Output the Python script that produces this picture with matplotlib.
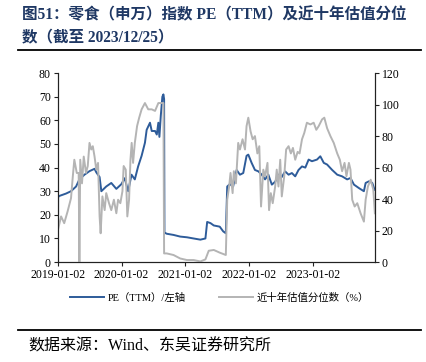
import pandas as pd
import matplotlib
matplotlib.use('Agg')
import matplotlib.pyplot as plt
from matplotlib.lines import Line2D

plt.rcParams['font.family'] = ['Liberation Serif', 'Noto Sans CJK SC']
plt.rcParams['axes.unicode_minus'] = False

# PE(TTM), left axis
pe_dates = ['2019-01-02', '2019-01-03', '2019-01-10', '2019-02-17', '2019-03-18', '2019-04-16',
            '2019-05-05', '2019-06-03', '2019-07-02', '2019-07-31', '2019-08-10', '2019-08-29',
            '2019-09-08', '2019-10-06', '2019-11-04', '2019-12-03', '2020-01-01', '2020-01-20',
            '2020-02-09', '2020-02-28', '2020-03-18', '2020-04-06', '2020-04-26', '2020-05-15',
            '2020-05-25', '2020-06-13', '2020-06-23', '2020-07-12', '2020-07-22', '2020-07-31',
            '2020-08-06', '2020-08-14', '2020-08-23', '2020-08-29', '2020-09-02', '2020-09-04',
            '2020-09-17', '2020-10-26', '2020-12-03', '2021-01-11', '2021-02-18', '2021-03-29',
            '2021-04-27', '2021-05-07', '2021-05-26', '2021-06-14', '2021-07-18', '2021-08-07',
            '2021-08-22', '2021-08-30', '2021-09-14', '2021-10-03', '2021-10-23', '2021-11-11',
            '2021-11-30', '2021-12-19', '2021-12-29', '2022-01-17', '2022-02-05', '2022-02-25',
            '2022-03-16', '2022-04-04', '2022-04-23', '2022-05-13', '2022-06-01', '2022-06-20',
            '2022-07-09', '2022-07-28', '2022-08-17', '2022-09-05', '2022-09-24', '2022-10-13',
            '2022-11-02', '2022-11-21', '2022-12-10', '2022-12-29', '2023-01-27', '2023-02-15',
            '2023-03-07', '2023-03-26', '2023-04-24', '2023-05-23', '2023-06-20', '2023-07-19',
            '2023-08-07', '2023-08-27', '2023-09-25', '2023-10-23', '2023-11-02', '2023-11-21',
            '2023-12-10', '2023-12-20', '2023-12-25']
pe_values = [0, 27.5, 28, 29, 30, 32,
             35, 37, 38.5, 39.5, 38, 36,
             30, 32, 33.5, 31, 33, 35.5,
             30, 37, 35, 40.5, 45, 50.5,
             56, 59, 55.5, 55.5, 54, 59,
             53, 62, 70, 71, 69, 12.5,
             12, 11.5, 10.8, 10.5, 10, 9.5,
             10, 17, 16.5, 15.5, 15, 13,
             12.2, 32, 33, 32, 39, 37,
             37.7, 45, 45.5, 42, 39, 38.4,
             37, 35, 37, 32.8, 34, 37,
             36, 38.4, 37, 37.7, 36.3, 39,
             40.5, 40, 43.4, 42.7, 43.4, 44.8,
             42, 41.3, 39, 37, 36.3, 35,
             35.6, 32.8, 31.3, 30, 33.5, 34.2,
             33.5, 31.3, 30.6]

# ten-year valuation percentile (%), right axis
pct_dates = ['2019-01-02', '2019-01-20', '2019-02-07', '2019-02-26', '2019-03-18', '2019-03-28',
             '2019-04-06', '2019-04-20', '2019-05-01', '2019-05-05', '2019-05-10', '2019-05-20',
             '2019-05-30', '2019-06-12', '2019-06-22', '2019-07-02', '2019-07-12', '2019-07-21',
             '2019-07-31', '2019-08-10', '2019-08-20', '2019-08-29', '2019-09-04', '2019-09-14',
             '2019-09-27', '2019-10-06', '2019-10-22', '2019-11-04', '2019-11-19', '2019-12-03',
             '2019-12-13', '2019-12-26', '2020-01-07', '2020-01-14', '2020-01-26', '2020-02-04',
             '2020-02-14', '2020-02-22', '2020-02-29', '2020-03-08', '2020-03-18', '2020-03-31',
             '2020-04-12', '2020-04-26', '2020-05-15', '2020-06-03', '2020-06-23', '2020-07-12',
             '2020-07-31', '2020-08-29', '2020-09-02', '2020-09-17', '2020-10-26', '2020-12-03',
             '2021-01-11', '2021-02-18', '2021-03-29', '2021-04-27', '2021-05-16', '2021-06-14',
             '2021-07-18', '2021-08-22', '2021-08-30', '2021-09-10', '2021-09-18', '2021-09-30',
             '2021-10-07', '2021-10-19', '2021-11-01', '2021-11-11', '2021-11-26', '2021-12-10',
             '2021-12-19', '2021-12-29', '2022-01-11', '2022-01-23', '2022-02-05', '2022-02-19',
             '2022-03-02', '2022-03-12', '2022-03-25', '2022-04-04', '2022-04-18', '2022-04-27',
             '2022-05-07', '2022-05-18', '2022-06-01', '2022-06-10', '2022-06-20', '2022-06-30',
             '2022-07-09', '2022-07-23', '2022-08-03', '2022-08-17', '2022-08-30', '2022-09-11',
             '2022-09-24', '2022-10-08', '2022-10-19', '2022-11-02', '2022-11-15', '2022-11-30',
             '2022-12-20', '2023-01-08', '2023-01-23', '2023-02-06', '2023-02-25', '2023-03-10',
             '2023-03-26', '2023-04-14', '2023-05-03', '2023-05-23', '2023-06-07', '2023-06-20',
             '2023-07-04', '2023-07-15', '2023-07-29', '2023-08-07', '2023-08-17', '2023-08-31',
             '2023-09-15', '2023-10-04', '2023-10-23', '2023-11-02', '2023-11-15', '2023-12-01',
             '2023-12-16', '2023-12-25']
pct_values = [20.4, 29, 24.7, 32, 40.6, 54,
              65, 56.6, 56.6, 0, 65, 50,
              67, 56.6, 61, 75.7, 71.5, 73.6,
              67, 58.7, 63, 29, 18.3, 41.7,
              33, 43.8, 37.4, 33, 39.6, 31,
              39.6, 37.4, 45, 61, 58.7, 29,
              39.6, 65, 75.7, 63, 75.7, 86.4,
              91.7, 97, 101, 97, 97, 96,
              101, 101, 5.5, 5.5, 4.5, 2.3,
              1.3, 1.3, 0.4, 1.7, 7.2, 7.7,
              6, 4.5, 39.6, 48, 56.6, 43.8,
              57.7, 50, 75.7, 71.5, 78, 71.5,
              86.4, 91.7, 83, 78, 80, 69,
              73.6, 35.3, 58.7, 54.5, 63, 33,
              43.8, 37.4, 48, 58.7, 48, 65,
              41.7, 54.5, 71.5, 73.6, 69, 72.5,
              65, 70, 69, 78, 82, 88.5,
              87.4, 88.5, 84, 86.4, 90.6, 91.7,
              85, 80, 75.7, 69, 65, 57.7,
              63, 54.5, 63, 58.7, 39.6, 35.3,
              37.4, 31, 25.7, 39.6, 48, 52.3,
              46, 31]

xtick_labels = ['2019-01-02', '2020-01-02', '2021-01-02', '2022-01-02', '2023-01-02']

blue = '#2E5C9A'
gray = '#B4B4B4'

fig = plt.figure(figsize=(4.26, 3.62), dpi=100)
ax = fig.add_axes([0.136, 0.276, 0.744, 0.522])
ax2 = ax.twinx()

ax.plot(pd.to_datetime(pe_dates), pe_values, color=blue, lw=1.4)
ax2.plot(pd.to_datetime(pct_dates), pct_values, color=gray, lw=1.4)

ax.set_xlim(pd.Timestamp('2019-01-02'), pd.Timestamp('2023-12-25'))
ax.set_ylim(0, 80)
ax2.set_ylim(0, 120)
ax.set_yticks(range(0, 81, 10))
ax2.set_yticks(range(0, 121, 20))
ax.set_xticks(pd.to_datetime(xtick_labels))
ax.set_xticklabels(xtick_labels)

for a in (ax, ax2):
    a.spines['top'].set_visible(False)
    for s in ('left', 'right', 'bottom'):
        a.spines[s].set_color('#222222')
        a.spines[s].set_linewidth(0.8)
    a.tick_params(labelsize=8.5, length=3, width=0.8, color='#222222', pad=2)

handles = [Line2D([], [], color=blue, lw=1.4), Line2D([], [], color=gray, lw=1.4)]
fig.legend(handles, ['PE（TTM）/左轴', '近十年估值分位数（%）'], loc='center',
           bbox_to_anchor=(0.515, 0.177), ncol=2, frameon=False, fontsize=7.5,
           handlelength=3.3, handletextpad=0.3, columnspacing=3.2)

fig.text(0.052, 0.958, '图51：零食（申万）指数 PE（TTM）及近十年估值分位', fontsize=11.2,
         fontweight='bold', color='#1F3864', va='center', ha='left')
fig.text(0.052, 0.895, '数（截至 2023/12/25）', fontsize=11.2,
         fontweight='bold', color='#1F3864', va='center', ha='left')

fig.add_artist(Line2D([0.042, 0.988], [0.862, 0.862], color='black', lw=1.3))
fig.add_artist(Line2D([0.042, 0.988], [0.088, 0.088], color='black', lw=1.3))
fig.text(0.066, 0.042, '数据来源：Wind、东吴证券研究所', fontsize=11.5, color='black',
         va='center', ha='left')

fig.savefig('out.png', dpi=100)
